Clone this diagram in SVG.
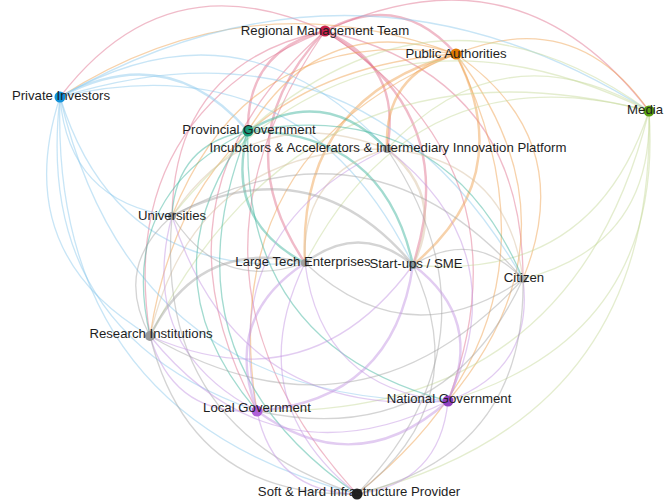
<svg xmlns="http://www.w3.org/2000/svg" width="664" height="500" viewBox="0 0 664 500">
  <style>
    .e{fill:none;stroke-width:1.3;stroke-opacity:.48;stroke-linecap:round}
    .w{stroke-width:2.4}
    .r{stroke:#e0708f}
    .a{stroke:#eea050}
    .i{stroke:#8cc8ec}
    .m{stroke:#c6d99a}
    .p{stroke:#3fb49c}
    .n{stroke:#d8c0a0}
    .k{stroke:#a6a6a6}
    .v{stroke:#c394e2}
    .node circle{stroke:none}
    .node text{font-family:"Liberation Sans",Arial,sans-serif;font-size:13.2px;fill:#1e1e1e;text-anchor:middle}
  </style>
  <rect width="664" height="500" fill="#ffffff"/>

  <g id="connectors">
    <!-- Regional Management Team -->
    <path class="e r w" d="M325,31 Q399.7,-9.9 456,54"/>
    <path class="e r" d="M325,31 Q166.1,-42 60,97"/>
    <path class="e r" d="M325,31 Q519,-58.6 649,111"/>
    <path class="e r w" d="M325,31 Q246.5,50.2 248,131"/>
    <path class="e r w" d="M325,31 Q403.2,65.2 387,149"/>
    <path class="e r" d="M325,31 Q174.5,62.3 172,216"/>
    <path class="e r w" d="M325,31 Q222.2,139 305,263"/>
    <path class="e r w" d="M325,31 Q462.6,112.8 413,265"/>
    <path class="e r" d="M325,31 Q523.2,75.8 523,279"/>
    <path class="e r" d="M325,31 Q115.5,113.5 150,336"/>
    <path class="e r" d="M325,31 Q139,193.8 257,411"/>
    <path class="e r" d="M325,31 Q534.5,166.8 448,401"/>
    <path class="e r" d="M325,31 Q155.8,275.3 357,494"/>
    <!-- Public Authorities -->
    <path class="e a" d="M456,54 Q247.3,-23.5 60,97"/>
    <path class="e a" d="M456,54 Q575.3,5.3 649,111"/>
    <path class="e a" d="M456,54 Q321.2,9.3 248,131"/>
    <path class="e a w" d="M456,54 Q383.5,73.9 387,149"/>
    <path class="e a" d="M456,54 Q249.2,21.4 172,216"/>
    <path class="e a w" d="M456,54 Q296.9,98.1 305,263"/>
    <path class="e a w" d="M456,54 Q518.9,176.7 413,265"/>
    <path class="e a" d="M456,54 Q579.5,139.7 523,279"/>
    <path class="e a" d="M456,54 Q190.2,72.6 150,336"/>
    <path class="e a" d="M456,54 Q213.7,152.9 257,411"/>
    <path class="e a" d="M456,54 Q590.8,230.7 448,401"/>
    <path class="e a" d="M456,54 Q582.5,313.6 357,494"/>
    <!-- Private Investors -->
    <path class="e i" d="M60,97 Q358.7,-72.7 649,111"/>
    <path class="e i w" d="M60,97 Q167.6,38.8 248,131"/>
    <path class="e i" d="M60,97 Q244.3,-7.8 387,149"/>
    <path class="e i" d="M60,97 Q68.4,201.3 172,216"/>
    <path class="e i" d="M60,97 Q116.1,278 305,263"/>
    <path class="e i" d="M60,97 Q303.7,39.8 413,265"/>
    <path class="e i" d="M60,97 Q364.3,2.8 523,279"/>
    <path class="e i" d="M60,97 Q9.4,252.5 150,336"/>
    <path class="e i" d="M60,97 Q32.9,332.8 257,411"/>
    <path class="e i" d="M60,97 Q132.4,404.2 448,401"/>
    <path class="e i" d="M60,97 Q49.7,414.3 357,494"/>
    <!-- Media -->
    <path class="e m" d="M649,111 Q440.5,-39.4 248,131"/>
    <path class="e m" d="M649,111 Q502.8,25.2 387,149"/>
    <path class="e m" d="M649,111 Q368.5,-27.3 172,216"/>
    <path class="e m" d="M649,111 Q416.2,49.4 305,263"/>
    <path class="e m" d="M649,111 Q592.6,282.4 413,265"/>
    <path class="e m" d="M649,111 Q653.2,245.4 523,279"/>
    <path class="e m" d="M649,111 Q309.5,23.9 150,336"/>
    <path class="e m" d="M649,111 Q573,417.8 257,411"/>
    <path class="e m" d="M649,111 Q664.5,336.4 448,401"/>
    <path class="e m" d="M649,111 Q656.2,419.3 357,494"/>
    <!-- Provincial Government -->
    <path class="e p w" d="M248,131 Q324.7,84.4 387,149"/>
    <path class="e p" d="M248,131 Q176,143.1 172,216"/>
    <path class="e p w" d="M248,131 Q223.7,219.8 305,263"/>
    <path class="e p w" d="M248,131 Q384.1,132 413,265"/>
    <path class="e p" d="M248,131 Q444.7,95 523,279"/>
    <path class="e p" d="M248,131 Q117,194.3 150,336"/>
    <path class="e p" d="M248,131 Q140.5,274.6 257,411"/>
    <path class="e p" d="M248,131 Q240,346 448,401"/>
    <path class="e p" d="M248,131 Q157.3,356.1 357,494"/>
    <!-- Incubators & Accelerators & Intermediary Innovation Platform -->
    <path class="e n" d="M387,149 Q252.7,96.5 172,216"/>
    <path class="e n" d="M387,149 Q300.4,173.2 305,263"/>
    <path class="e n w" d="M387,149 Q446.4,196.6 413,265"/>
    <path class="e n" d="M387,149 Q507,159.6 523,279"/>
    <path class="e n" d="M387,149 Q193.7,147.7 150,336"/>
    <path class="e v" d="M387,149 Q217.2,228 257,411"/>
    <path class="e v" d="M387,149 Q518.3,250.6 448,401"/>
    <path class="e k" d="M387,149 Q510,333.5 357,494"/>
    <!-- Universities -->
    <path class="e k" d="M172,216 Q219.7,292.7 305,263"/>
    <path class="e k w" d="M172,216 Q312.1,144.1 413,265"/>
    <path class="e k" d="M172,216 Q372.7,107.1 523,279"/>
    <path class="e k" d="M172,216 Q113,267.2 150,336"/>
    <path class="e v" d="M172,216 Q136.5,347.5 257,411"/>
    <path class="e v" d="M172,216 Q236,418.9 448,401"/>
    <path class="e k" d="M172,216 Q153.3,429 357,494"/>
    <!-- Large Tech Enterprises -->
    <path class="e k w" d="M305,263 Q359.8,220.8 413,265"/>
    <path class="e k" d="M305,263 Q407.6,358.2 523,279"/>
    <path class="e k w" d="M305,263 Q198.3,237.5 150,336"/>
    <path class="e v w" d="M305,263 Q221.8,317.8 257,411"/>
    <path class="e v" d="M305,263 Q321.3,389.2 448,401"/>
    <path class="e v" d="M305,263 Q238.6,399.3 357,494"/>
    <!-- Start-ups / SME -->
    <path class="e k" d="M413,265 Q473.6,228 523,279"/>
    <path class="e v" d="M413,265 Q309.9,405.7 150,336"/>
    <path class="e v w" d="M413,265 Q393.4,400.4 257,411"/>
    <path class="e v w" d="M413,265 Q484.9,319 448,401"/>
    <path class="e k" d="M413,265 Q476.6,401.9 357,494"/>
    <!-- Citizen -->
    <path class="e k" d="M523,279 Q359.3,456.7 150,336"/>
    <path class="e k" d="M523,279 Q442.8,451.4 257,411"/>
    <path class="e v" d="M523,279 Q534.3,370 448,401"/>
    <path class="e k" d="M523,279 Q526,452.9 357,494"/>
    <!-- Research Institutions -->
    <path class="e v" d="M150,336 Q173.5,416.3 257,411"/>
    <path class="e v" d="M150,336 Q273,487.7 448,401"/>
    <path class="e k" d="M150,336 Q190.3,497.8 357,494"/>
    <!-- Local / National Government -->
    <path class="e v w" d="M257,411 Q356.5,482.4 448,401"/>
    <path class="e v" d="M257,411 Q273.8,492.5 357,494"/>
    <path class="e v" d="M448,401 Q439.7,483.9 357,494"/>
  </g>

  <g id="rmt" class="node"><circle cx="325" cy="31" r="5.5" fill="#c8204a"/><text x="325" y="35">Regional Management Team</text></g>
  <g id="pa" class="node"><circle cx="456" cy="54" r="5.5" fill="#e07800"/><text x="456" y="58">Public Authorities</text></g>
  <g id="pi" class="node"><circle cx="60" cy="97" r="5.5" fill="#1090d8"/><text x="61" y="100">Private Investors</text></g>
  <g id="media" class="node"><circle cx="649" cy="111" r="5.5" fill="#58a010"/><text x="663" y="114" style="text-anchor:end">Media</text></g>
  <g id="prov" class="node"><circle cx="248" cy="131" r="5.5" fill="#1a9a7a"/><text x="249" y="134">Provincial Government</text></g>
  <g id="incub" class="node"><circle cx="387" cy="149" r="4" fill="#9a9a9a"/><text x="388" y="152">Incubators &amp; Accelerators &amp; Intermediary Innovation Platform</text></g>
  <g id="univ" class="node"><circle cx="172" cy="216" r="4" fill="#a0a0a0"/><text x="172" y="220">Universities</text></g>
  <g id="ltech" class="node"><circle cx="305" cy="263" r="4" fill="#a0a0a0"/><text x="303" y="266">Large Tech Enterprises</text></g>
  <g id="sme" class="node"><circle cx="413" cy="265" r="4" fill="#8a9aa0"/><text x="416" y="268">Start-ups / SME</text></g>
  <g id="citizen" class="node"><circle cx="523" cy="279" r="4" fill="#b0b0b0"/><text x="524" y="282">Citizen</text></g>
  <g id="research" class="node"><circle cx="150" cy="336" r="5" fill="#9a9a9a"/><text x="151" y="338">Research Institutions</text></g>
  <g id="local" class="node"><circle cx="257" cy="411" r="5.5" fill="#b060d8"/><text x="257" y="412">Local Government</text></g>
  <g id="national" class="node"><circle cx="448" cy="401" r="5.5" fill="#9040c0"/><text x="449" y="403">National Government</text></g>
  <g id="soft" class="node"><circle cx="357" cy="494" r="5.5" fill="#222222"/><text x="359" y="496">Soft &amp; Hard Infrastructure Provider</text></g>
</svg>
